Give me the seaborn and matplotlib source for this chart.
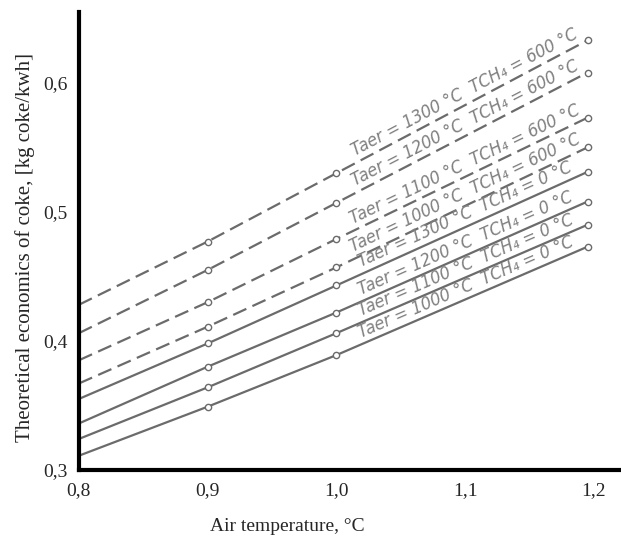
import numpy as np
import pandas as pd
import matplotlib
matplotlib.use('Agg')
import matplotlib.pyplot as plt
import seaborn as sns

# データ
x_vals = [0.8, 0.9, 1.0, 1.195]
t_air = [1300, 1200, 1100, 1000]
# TCH4 = 600 °C（破線）
y_600 = [
    [0.428, 0.477, 0.530, 0.633],
    [0.406, 0.455, 0.507, 0.608],
    [0.385, 0.430, 0.479, 0.573],
    [0.367, 0.411, 0.457, 0.550],
]
# TCH4 = 0 °C（実線）
y_0 = [
    [0.355, 0.398, 0.443, 0.531],
    [0.336, 0.380, 0.422, 0.508],
    [0.324, 0.364, 0.406, 0.490],
    [0.311, 0.349, 0.389, 0.473],
]
x_ticks = [0.8, 0.9, 1.0, 1.1, 1.2]
x_ticklabels = ['0,8', '0,9', '1,0', '1,1', '1,2']
y_ticks = [0.3, 0.4, 0.5, 0.6]
y_ticklabels = ['0,3', '0,4', '0,5', '0,6']

sns.set_style('white')
plt.rcParams['font.family'] = ['Liberation Serif', 'DejaVu Serif']

fig = plt.figure(figsize=(6.21, 5.42), dpi=100)
ax = fig.add_axes([0.127, 0.133, 0.873, 0.845])

line_color = '#6b6b6b'
text_color = '#808080'

series = []
for t, ys in zip(t_air, y_600):
    series.append((t, 600, ys, True))
for t, ys in zip(t_air, y_0):
    series.append((t, 0, ys, False))

for t, tch4, ys, dashed in series:
    df = pd.DataFrame({'x': x_vals, 'y': ys})
    sns.lineplot(data=df, x='x', y='y', ax=ax, color=line_color, lw=1.6,
                 marker='o', markersize=4.5, markerfacecolor='white',
                 markeredgecolor=line_color, markeredgewidth=1.0,
                 markevery=[1, 2, 3], estimator=None, sort=False,
                 dashes=(6.5, 3.0) if dashed else (None, None))
    if not dashed:
        ax.lines[-1].set_linestyle('-')

ax.set_xlim(0.8, 1.221)
ax.set_ylim(0.3, 0.655)

# ラベル（線に沿って回転）
label_x = 1.103
for t, tch4, ys, dashed in series:
    y_lab = np.interp(label_x, x_vals, ys)
    p0 = ax.transData.transform((x_vals[2], ys[2]))
    p1 = ax.transData.transform((x_vals[3], ys[3]))
    ang = np.degrees(np.arctan2(p1[1] - p0[1], p1[0] - p0[0]))
    ax.annotate(f'Taer = {t} °C  TCH₄ = {tch4} °C', xy=(label_x, y_lab),
                xytext=(0, 2.0), textcoords='offset points',
                rotation=ang, rotation_mode='anchor', ha='center', va='bottom',
                color=text_color, fontsize=13, style='italic',
                fontstretch='condensed', family=['DejaVu Sans'])

ax.set_xticks(x_ticks)
ax.set_xticklabels(x_ticklabels)
ax.set_yticks(y_ticks)
ax.set_yticklabels(y_ticklabels)
ax.set_xticks(np.arange(0.81, 1.221, 0.01), minor=True)
ax.tick_params(axis='x', which='major', length=3, width=1, color='#999999',
               labelsize=14, pad=6)
ax.tick_params(axis='x', which='minor', length=2, width=0.8, color='#bbbbbb')
ax.tick_params(axis='y', length=0, labelsize=14, pad=8)

ax.set_xlabel('Air temperature, °C', fontsize=14)
ax.set_ylabel('Theoretical economics of coke, [kg coke/kwh]', fontsize=15)
ax.xaxis.set_label_coords(0.384, -0.105)
ax.yaxis.set_label_coords(-0.08, 0.485)

sns.despine(ax=ax)
for s in ['left', 'bottom']:
    ax.spines[s].set_linewidth(3)
    ax.spines[s].set_color('black')
ax.grid(False)

plt.savefig('out.png', dpi=100)
